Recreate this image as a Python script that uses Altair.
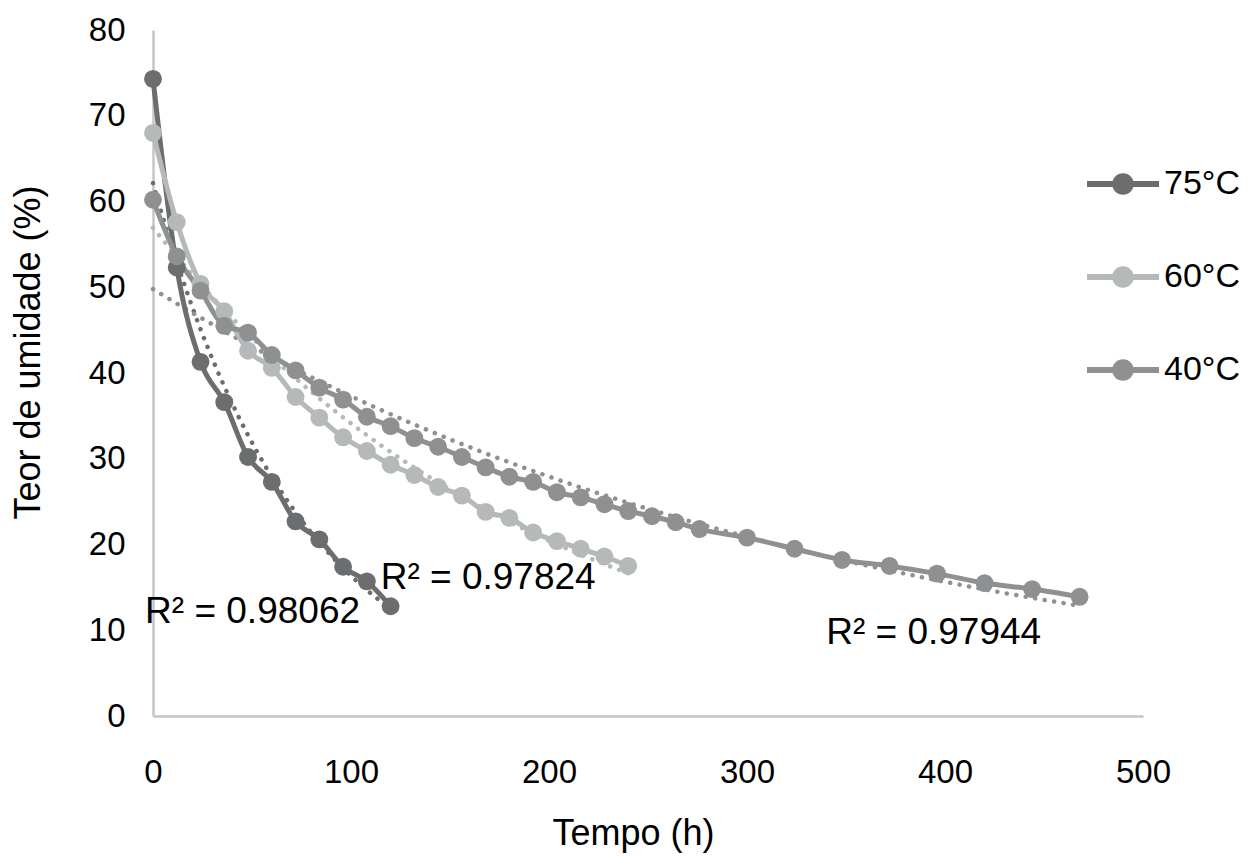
import altair as alt
import pandas as pd

series_names = ["75°C", "60°C", "40°C"]
series_colors = ["#6b6d6f", "#b6b9ba", "#8e9092"]

t75 = [0, 12, 24, 36, 48, 60, 72, 84, 96, 108, 120]
u75 = [74.3, 52.3, 41.3, 36.6, 30.2, 27.3, 22.7, 20.6, 17.4, 15.7, 12.8]

t60 = [0, 12, 24, 36, 48, 60, 72, 84, 96, 108, 120, 132, 144, 156, 168,
       180, 192, 204, 216, 228, 240]
u60 = [68.0, 57.6, 50.4, 47.2, 42.6, 40.6, 37.2, 34.8, 32.5, 30.9, 29.3,
       28.1, 26.7, 25.7, 23.8, 23.1, 21.4, 20.4, 19.5, 18.6, 17.5]

t40 = [0, 12, 24, 36, 48, 60, 72, 84, 96, 108, 120, 132, 144, 156, 168,
       180, 192, 204, 216, 228, 240, 252, 264, 276,
       300, 324, 348, 372, 396, 420, 444, 468]
u40 = [60.2, 53.6, 49.6, 45.5, 44.7, 42.1, 40.3, 38.3, 36.9, 34.9, 33.8,
       32.4, 31.4, 30.2, 29.0, 27.9, 27.3, 26.1, 25.5, 24.7, 23.9, 23.3,
       22.6, 21.8, 20.8, 19.5, 18.2, 17.5, 16.6, 15.5, 14.8, 13.9]

r2_labels = ["R² = 0.98062", "R² = 0.97824", "R² = 0.97944"]
r2_t = [-4, 115, 340]
r2_u = [12.1, 16.1, 9.7]

x_ticks = [0, 100, 200, 300, 400, 500]
y_ticks = [0, 10, 20, 30, 40, 50, 60, 70, 80]

rows = []
for name, ts, us in zip(series_names, [t75, t60, t40], [u75, u60, u40]):
    for t, u in zip(ts, us):
        rows.append({"serie": name, "t": t, "u": u})
df = pd.DataFrame(rows)
ann = pd.DataFrame({"label": r2_labels, "t": r2_t, "u": r2_u})

FONT = "Liberation Sans"
XT = "Tempo (h)"
YT = "Teor de umidade (%)"

xscale = alt.Scale(domain=[0, 500], nice=False)
yscale = alt.Scale(domain=[0, 80], nice=False)
cscale = alt.Scale(domain=series_names, range=series_colors)

xaxis = alt.Axis(values=x_ticks, labelPadding=40, labelFlush=False,
                 titleX=480, titleY=117, titleBaseline="middle")
yaxis = alt.Axis(values=y_ticks, labelPadding=28, labelFlush=False,
                 titleX=-125, titleY=322, titleBaseline="middle",
                 titleAlign="center", titleAngle=-90)

# legend glyph: a short bar with a filled disc in the middle (unit coords)
sym_path = ("M-1,-0.085L1,-0.085L1,0.085L-1,0.085Z"
            "M0.3,0A0.3,0.3,0,1,1,-0.3,0A0.3,0.3,0,1,1,0.3,0Z")

legend = alt.Legend(
    title=None, orient="none", legendX=934, legendY=118,
    symbolType=sym_path, symbolSize=5184, symbolStrokeWidth=0,
    symbolOpacity=1,
    labelFontSize=34, labelFont=FONT, labelColor="black",
    rowPadding=40, labelOffset=5, padding=0,
)

base = alt.Chart(df)

X = alt.X("t:Q", scale=xscale, axis=xaxis, title=XT)

trend = base.transform_calculate(
    ln="log(datum.u)"
).transform_regression(
    "t", "ln", method="poly", order=1, groupby=["serie"]
).transform_calculate(
    ufit="exp(datum.ln)"
).mark_line(strokeDash=[0.1, 9.5], strokeCap="round", strokeWidth=4.5).encode(
    x=X,
    y=alt.Y("ufit:Q", scale=yscale, axis=yaxis, title=YT),
    color=alt.Color("serie:N", scale=cscale, legend=None, sort=series_names),
    detail="serie:N",
)

lines = base.mark_line(strokeWidth=5, interpolate="monotone").encode(
    x=X,
    y=alt.Y("u:Q", scale=yscale, axis=yaxis, title=YT),
    color=alt.Color("serie:N", scale=cscale, legend=None, sort=series_names),
    order=alt.Order("t:Q"),
)

points = base.mark_circle(size=320, opacity=1).encode(
    x=X,
    y=alt.Y("u:Q", scale=yscale, axis=yaxis, title=YT),
    color=alt.Color("serie:N", scale=cscale, legend=legend, sort=series_names),
)

texts = alt.Chart(ann).mark_text(
    align="left", baseline="middle", fontSize=37, font=FONT, color="black"
).encode(
    x=X,
    y=alt.Y("u:Q", scale=yscale, axis=yaxis, title=YT),
    text="label:N",
)

chart = alt.layer(trend, lines, points, texts).resolve_legend(
    color="independent"
).properties(
    width=990, height=686,
    autosize=alt.AutoSizeParams(type="none"),
    padding={"left": 145, "top": 22, "right": 101, "bottom": 140},
).configure_view(stroke=None).configure_axis(
    labelFont=FONT, titleFont=FONT, labelFontSize=33, titleFontSize=36,
    titleFontWeight="normal", labelColor="black", titleColor="black",
    grid=False, ticks=False, tickSize=0, domainColor="#c6c6c6",
    domainWidth=2.5,
)

chart.save("out.html", embed_options={"renderer": "svg", "actions": False})
